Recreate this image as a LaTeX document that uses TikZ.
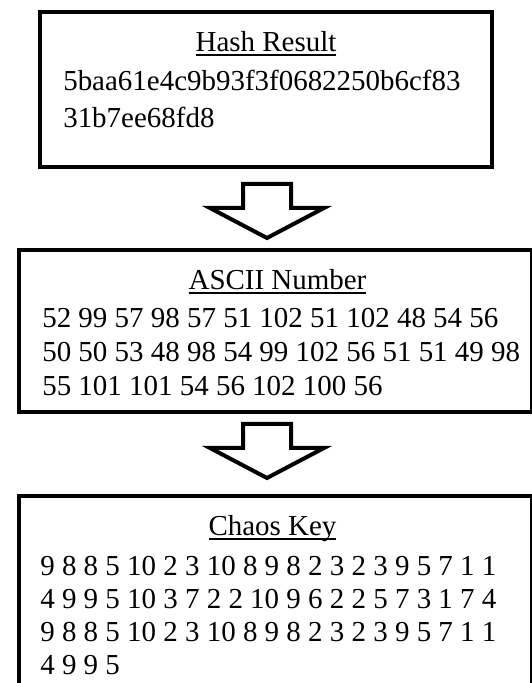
\documentclass[tikz,border=0pt]{standalone}
\usepackage{fontspec}
\setmainfont{Liberation Serif}
\usetikzlibrary{calc}

% underlined heading, rule at a fixed depth like a word processor
\newcommand{\stagerule}[1]{\setbox0\hbox{#1}\rlap{\rule[-3.2pt]{\wd0}{1.5pt}}\box0}
% hollow block arrow from a shaft top down to a tip
\newcommand{\stagearrow}[2]{%
  \draw[flowarrow] ($(#1)+(-0.6,0)$) -- ($(#1)+(0.6,0)$) -- ($(#2)+(0.6,0.75)$)
    -- ($(#2)+(1.425,0.75)$) -- (#2) -- ($(#2)+(-1.425,0.75)$)
    -- ($(#2)+(-0.6,0.75)$) -- cycle;}

\tikzset{
  stagebox/.style={draw, line width=0.1cm, inner sep=0pt},
  stagetitle/.style={anchor=base, inner sep=0pt, font=\fontsize{20.6}{24}\selectfont},
  stagetext/.style={anchor=base west, inner sep=0pt, font=\fontsize{20.6}{24}\selectfont},
  flowarrow/.style={draw, line width=0.1cm, line join=miter, fill=white}
}

\begin{document}
\begin{tikzpicture}
% page size
\useasboundingbox (0,0) rectangle (13.3,17.075);

% the three stages
\node[stagebox, minimum width=11.3cm, minimum height=3.875cm] (hash) at (6.65,14.8375) {};
\node[stagetitle] (hashtitle) at (6.65,15.775) {\stagerule{Hash Result}};
\foreach \txt [count=\i] in {5baa61e4c9b93f3f0682250b6cf83, 31b7ee68fd8}
  \node[stagetext] (hash\i) at (1.575,{14.8-(\i-1)*0.925}) {\txt};

\node[stagebox, minimum width=12.825cm, minimum height=4.05cm] (ascii) at (6.8875,8.8) {};
\node[stagetitle] (asciititle) at (6.9375,9.825) {\stagerule{ASCII Number}};
\foreach \txt [count=\i] in {52 99 57 98 57 51 102 51 102 48 54 56,
    50 50 53 48 98 54 99 102 56 51 51 49 98, 55 101 101 54 56 102 100 56}
  \node[stagetext] (ascii\i) at (1.05,{8.875-(\i-1)*0.84}) {\txt};

\node[stagebox, minimum width=12.825cm, minimum height=5.675cm] (chaos) at (6.8875,1.8375) {};
\node[stagetitle] (chaostitle) at (6.8125,3.675) {\stagerule{Chaos Key}};
\foreach \txt [count=\i] in {9 8 8 5 10 2 3 10 8 9 8 2 3 2 3 9 5 7 1 1,
    4 9 9 5 10 3 7 2 2 10 9 6 2 2 5 7 3 1 7 4,
    9 8 8 5 10 2 3 10 8 9 8 2 3 2 3 9 5 7 1 1, 4 9 9 5}
  \node[stagetext] (chaos\i) at (1.0,{2.7-(\i-1)*0.833}) {\txt};

% arrows between the stages
\coordinate (top1) at ($(hash.south)+(0.025,-0.375)$);
\coordinate (tip1) at ($(ascii.north -| top1)+(0,0.25)$);
\stagearrow{top1}{tip1}
\coordinate (top2) at ($(ascii.south -| top1)+(0,-0.25)$);
\coordinate (tip2) at ($(chaos.north -| top1)+(0,0.4)$);
\stagearrow{top2}{tip2}
\end{tikzpicture}
\end{document}
